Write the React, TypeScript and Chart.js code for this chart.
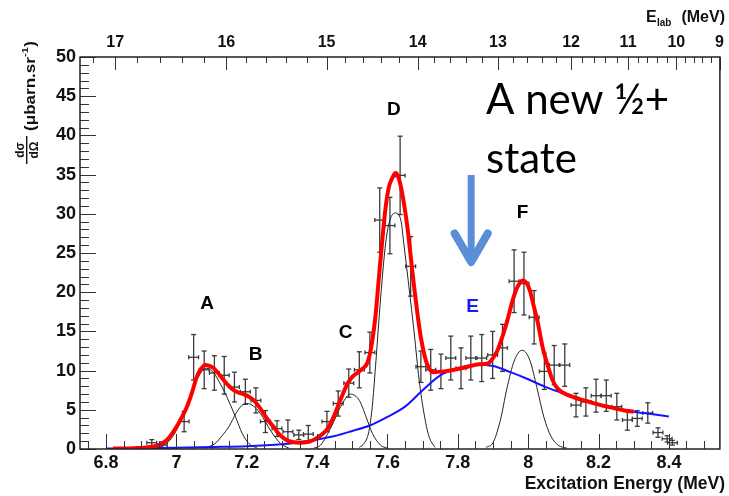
import React, { useEffect, useRef } from 'react';
import { Chart, registerables } from 'chart.js';

Chart.register(...registerables);

// ---------- axes ----------
const xRange = [6.726, 8.545];
const yRange = [0, 50];
const xTickValues = [6.8, 7.0, 7.2, 7.4, 7.6, 7.8, 8.0, 8.2, 8.4];
const yTickStep = 5;
const elabTickLabels = ['17', '16', '15', '14', '13', '12', '11', '10', '9'];
const elabTickEx = [6.826, 7.142, 7.427, 7.686, 7.914, 8.122, 8.284, 8.421, 8.544];

// ---------- measured points ----------
const dataEx = [6.93, 6.96, 7.022, 7.049, 7.079, 7.108, 7.136, 7.165, 7.196, 7.226, 7.253, 7.286, 7.317, 7.348, 7.375, 7.428, 7.46, 7.49, 7.52, 7.55, 7.578, 7.607, 7.636, 7.666, 7.695, 7.723, 7.752, 7.78, 7.809, 7.837, 7.868, 7.899, 7.927, 7.96, 7.988, 8.017, 8.046, 8.074, 8.104, 8.136, 8.164, 8.193, 8.222, 8.252, 8.282, 8.31, 8.34, 8.369, 8.395, 8.41];
const dataXs = [0.8, 0.5, 3.5, 11.7, 10.1, 9.7, 9.4, 7.9, 7.3, 6.2, 3.5, 2.6, 2.2, 1.8, 1.9, 3.5, 5.8, 8.4, 10.1, 12.3, 29.2, 28.5, 34.9, 23.3, 10.5, 10.1, 9.9, 11.6, 10.3, 11.6, 11.6, 12.0, 12.9, 21.4, 21.1, 16.8, 9.9, 10.7, 10.7, 5.6, 6.0, 6.8, 6.8, 5.4, 3.7, 3.9, 4.6, 2.1, 1.3, 0.8];
const dataErr = [0.4, 0.4, 1.3, 2.9, 2.4, 2.2, 2.4, 1.9, 1.6, 1.6, 1.4, 1.0, 1.5, 0.6, 1.1, 1.3, 1.6, 1.8, 2.3, 2.6, 4.1, 3.6, 5.0, 3.8, 2.0, 2.6, 2.2, 2.8, 2.6, 2.8, 3.0, 3.0, 3.0, 4.0, 4.0, 3.4, 2.3, 2.5, 2.7, 1.5, 1.8, 2.1, 2.0, 1.7, 1.3, 1.0, 1.3, 0.6, 0.4, 0.3];
const dataExErr = 0.014;

// ---------- fit curves ----------
const fitTotal: [number, number][] = [
  [6.82, 0.05], [6.88, 0.1], [6.93, 0.3], [6.96, 0.7], [6.98, 1.5], [7.0, 2.8], [7.015, 4.0], [7.03, 5.4],
  [7.045, 7.3], [7.058, 9.2], [7.07, 10.2], [7.082, 10.7], [7.094, 10.6], [7.106, 10.3], [7.12, 9.6], [7.134, 8.8],
  [7.15, 8.0], [7.163, 7.5], [7.177, 7.2], [7.191, 7.0], [7.205, 6.7], [7.22, 6.2], [7.235, 5.4], [7.248, 4.5],
  [7.262, 3.6], [7.277, 2.8], [7.29, 2.0], [7.305, 1.4], [7.32, 1.0], [7.334, 0.85], [7.35, 0.8], [7.372, 0.9],
  [7.39, 1.15], [7.4, 1.4], [7.415, 1.9], [7.43, 2.6], [7.445, 3.9], [7.457, 5.2], [7.472, 6.9], [7.486, 8.3],
  [7.5, 9.2], [7.514, 9.7], [7.528, 10.2], [7.543, 11.0], [7.555, 13.3], [7.566, 17.0], [7.575, 21.5], [7.585, 26.5],
  [7.595, 30.9], [7.604, 33.4], [7.614, 34.6], [7.623, 35.2], [7.63, 34.8], [7.638, 33.5], [7.648, 31.0], [7.657, 28.2],
  [7.667, 24.2], [7.676, 20.6], [7.686, 17.0], [7.695, 14.2], [7.705, 12.0], [7.714, 10.7], [7.73, 9.8], [7.761, 9.9],
  [7.8, 10.2], [7.828, 10.5], [7.86, 10.8], [7.885, 10.9], [7.9, 11.6], [7.913, 12.6], [7.928, 14.5], [7.942, 16.6],
  [7.956, 19.0], [7.97, 20.7], [7.984, 21.5], [7.995, 21.2], [8.005, 20.2], [8.016, 18.2], [8.027, 16.2], [8.041, 13.0],
  [8.056, 10.6], [8.07, 8.7], [8.084, 7.7], [8.098, 7.2], [8.112, 6.9], [8.13, 6.6], [8.15, 6.3], [8.175, 6.0],
  [8.198, 5.7], [8.22, 5.45], [8.245, 5.2], [8.27, 4.95], [8.3, 4.75],
];
const stateE: [number, number][] = [
  [6.8, 0.05], [6.9, 0.1], [7.0, 0.15], [7.1, 0.25], [7.2, 0.35], [7.3, 0.6], [7.35, 0.85], [7.4, 1.2],
  [7.45, 1.65], [7.5, 2.3], [7.55, 3.0], [7.6, 4.1], [7.65, 5.4], [7.7, 7.5], [7.75, 9.4], [7.8, 10.3],
  [7.85, 10.75], [7.9, 10.6], [7.95, 9.8], [8.0, 8.9], [8.05, 7.9], [8.1, 7.1], [8.15, 6.3], [8.2, 5.7],
  [8.25, 5.15], [8.3, 4.75], [8.35, 4.45], [8.4, 4.15],
];
const peakA: [number, number][] = [
  [6.94, 0.1], [6.96, 0.4], [6.985, 1.3], [7.01, 3.3], [7.035, 6.2], [7.06, 9.0], [7.085, 10.3], [7.106, 9.7],
  [7.125, 8.3], [7.144, 6.6], [7.168, 4.1], [7.187, 2.0], [7.206, 0.7], [7.23, 0.1],
];
const peakB: [number, number][] = [
  [7.08, 0.1], [7.11, 0.7], [7.13, 1.7], [7.15, 2.9], [7.17, 4.6], [7.185, 5.5], [7.2, 5.8], [7.215, 5.6],
  [7.239, 4.5], [7.267, 2.4], [7.296, 0.7], [7.32, 0.1],
];
const peakC: [number, number][] = [
  [7.39, 0.1], [7.41, 0.5], [7.44, 2.8], [7.467, 5.4], [7.495, 7.0], [7.52, 6.2], [7.54, 4.0], [7.557, 2.0],
  [7.58, 0.5], [7.6, 0.1],
];
const peakD: [number, number][] = [
  [7.52, 0.2], [7.535, 0.8], [7.547, 2.2], [7.557, 5.5], [7.566, 10.5], [7.581, 19.5], [7.595, 26.3], [7.607, 29.2],
  [7.623, 30.1], [7.638, 29.2], [7.647, 26.0], [7.661, 20.7], [7.676, 14.8], [7.69, 8.8], [7.704, 4.5], [7.718, 1.6],
  [7.735, 0.2],
];
const peakF: [number, number][] = [
  [7.88, 0.2], [7.9, 0.8], [7.92, 3.5], [7.94, 7.8], [7.96, 11.2], [7.983, 12.6], [8.005, 11.3], [8.025, 7.8],
  [8.045, 4.0], [8.065, 1.6], [8.085, 0.5], [8.11, 0.1],
];

// ---------- annotations ----------
const peakNames = ['A', 'B', 'C', 'D', 'E', 'F'];
const peakNameEx = [7.087, 7.225, 7.481, 7.618, 7.842, 7.984];
const peakNameY = [18.5, 12.0, 14.8, 43.3, 18.1, 30.1];
const peakNameColors = ['#000', '#000', '#000', '#000', '#1a1aff', '#000'];
const noteLines = ['A new \u00BD+', 'state'];

const FONT = '"Liberation Sans", Arial, sans-serif';

const toPts = (arr: [number, number][]) => arr.map(([x, y]) => ({ x, y }));

function line(ctx: CanvasRenderingContext2D, x1: number, y1: number, x2: number, y2: number) {
  ctx.beginPath();
  ctx.moveTo(x1, y1);
  ctx.lineTo(x2, y2);
  ctx.stroke();
}

const errorBarPlugin = {
  id: 'errorBars',
  beforeDatasetsDraw(chart: any) {
    const { ctx, chartArea: a, scales } = chart;
    const xs = scales.x, ys = scales.y;
    ctx.save();
    ctx.beginPath();
    ctx.rect(a.left, a.top, a.right - a.left, a.bottom - a.top);
    ctx.clip();
    ctx.strokeStyle = '#3a3a3a';
    ctx.lineWidth = 1.3;
    for (let i = 0; i < dataEx.length; i++) {
      const px = xs.getPixelForValue(dataEx[i]);
      const py = ys.getPixelForValue(dataXs[i]);
      const pt = ys.getPixelForValue(dataXs[i] + dataErr[i]);
      const pb = ys.getPixelForValue(Math.max(0, dataXs[i] - dataErr[i]));
      const pl = xs.getPixelForValue(dataEx[i] - dataExErr);
      const pr = xs.getPixelForValue(dataEx[i] + dataExErr);
      line(ctx, px, pt, px, pb);
      line(ctx, px - 2.5, pt, px + 2.5, pt);
      line(ctx, px - 2.5, pb, px + 2.5, pb);
      line(ctx, pl, py, pr, py);
      line(ctx, pl, py - 2, pl, py + 2);
      line(ctx, pr, py - 2, pr, py + 2);
    }
    ctx.restore();
  },
};

const decorPlugin = {
  id: 'decor',
  afterDraw(chart: any) {
    const { ctx, chartArea: a, scales } = chart;
    const xs = scales.x, ys = scales.y;
    ctx.save();
    ctx.strokeStyle = '#333';
    ctx.lineWidth = 1;
    // left ticks
    for (let v = yRange[0]; v <= yRange[1]; v++) {
      const py = Math.round(ys.getPixelForValue(v)) + 0.5;
      line(ctx, a.left, py, a.left + (v % yTickStep === 0 ? 16 : 9), py);
    }
    // bottom ticks
    for (let k = Math.ceil(xRange[0] * 20); k <= Math.floor(xRange[1] * 20); k++) {
      const px = Math.round(xs.getPixelForValue(k / 20)) + 0.5;
      line(ctx, px, a.bottom, px, a.bottom - (k % 4 === 0 ? 15 : 8));
    }
    // top ticks (E_lab)
    const tp = elabTickEx.map((v) => xs.getPixelForValue(v));
    tp.forEach((p) => line(ctx, Math.round(p) + 0.5, a.top, Math.round(p) + 0.5, a.top + 13));
    for (let i = 0; i < tp.length - 1; i++) {
      for (let k = 1; k < 5; k++) {
        const p = Math.round(tp[i] + ((tp[i + 1] - tp[i]) * k) / 5) + 0.5;
        line(ctx, p, a.top, p, a.top + 6);
      }
    }
    const d0 = (tp[1] - tp[0]) / 5;
    for (let p = tp[0] - d0; p > a.left + 2; p -= d0) {
      line(ctx, Math.round(p) + 0.5, a.top, Math.round(p) + 0.5, a.top + 6);
    }
    // frame
    ctx.strokeStyle = '#222';
    ctx.lineWidth = 1.5;
    ctx.strokeRect(a.left, a.top, a.right - a.left, a.bottom - a.top);

    // axis titles
    ctx.fillStyle = '#111';
    ctx.textBaseline = 'alphabetic';
    ctx.font = `bold 17.5px ${FONT}`;
    ctx.textAlign = 'right';
    ctx.fillText('Excitation Energy (MeV)', 725, 489);
    // E_lab title
    ctx.font = `bold 16px ${FONT}`;
    ctx.fillText('(MeV)', 725, 22);
    ctx.textAlign = 'left';
    ctx.fillText('E', 646, 22);
    ctx.font = `bold 10px ${FONT}`;
    ctx.fillText('lab', 657, 26);

    // y title (rotated)
    ctx.save();
    ctx.translate(0, 166);
    ctx.rotate(-Math.PI / 2);
    ctx.font = `bold 12px ${FONT}`;
    ctx.textAlign = 'center';
    ctx.fillText('d\u03C3', 16, 24);
    ctx.fillRect(2, 26, 28, 1.4);
    ctx.fillText('d\u03A9', 16, 38);
    ctx.textAlign = 'left';
    ctx.font = `bold 14px ${FONT}`;
    const main = '(\u03BCbarn.sr';
    const w = ctx.measureText(main).width;
    const sx = 74 / w;
    ctx.save();
    ctx.translate(35, 0);
    ctx.scale(sx, 1);
    ctx.fillText(main, 0, 35);
    ctx.font = `bold 9px ${FONT}`;
    ctx.fillText('-1', w, 28);
    const w2 = ctx.measureText('-1').width;
    ctx.font = `bold 14px ${FONT}`;
    ctx.fillText(')', w + w2 + 0.5, 35);
    ctx.restore();
    ctx.restore();

    // peak labels
    ctx.font = `bold 19px ${FONT}`;
    ctx.textAlign = 'center';
    ctx.textBaseline = 'middle';
    peakNames.forEach((n, i) => {
      ctx.fillStyle = peakNameColors[i];
      ctx.fillText(n, xs.getPixelForValue(peakNameEx[i]), ys.getPixelForValue(peakNameY[i]));
    });

    // note text
    ctx.fillStyle = '#000';
    ctx.textAlign = 'left';
    ctx.textBaseline = 'alphabetic';
    ctx.font = `42px Lato, "Open Sans", sans-serif`;
    const nx = xs.getPixelForValue(7.88);
    ctx.fillText(noteLines[0], nx, ys.getPixelForValue(42.7));
    ctx.fillText(noteLines[1], nx, ys.getPixelForValue(35.2));

    // arrow
    const ax = xs.getPixelForValue(7.838);
    const aTop = ys.getPixelForValue(34.95);
    const aTip = ys.getPixelForValue(23.85);
    const aWing = ys.getPixelForValue(27.5);
    const wdx = xs.getPixelForValue(7.838 + 0.047) - ax;
    ctx.strokeStyle = '#5B8ED6';
    ctx.lineWidth = 7;
    ctx.lineCap = 'butt';
    line(ctx, ax, aTop, ax, aTip - 4);
    ctx.lineWidth = 8;
    ctx.lineCap = 'round';
    ctx.lineJoin = 'round';
    ctx.beginPath();
    ctx.moveTo(ax - wdx, aWing);
    ctx.lineTo(ax, aTip);
    ctx.lineTo(ax + wdx, aWing);
    ctx.stroke();
    ctx.restore();
  },
};

export default function App() {
  const ref = useRef<HTMLCanvasElement>(null);
  useEffect(() => {
    const canvas = ref.current;
    if (!canvas) return;
    const curve = (data: [number, number][], color: string, width: number, order: number) => ({
      data: toPts(data),
      borderColor: color,
      backgroundColor: color,
      borderWidth: width,
      pointRadius: 0,
      showLine: true,
      fill: false,
      cubicInterpolationMode: 'monotone' as const,
      order,
    });
    const chart = new Chart(canvas, {
      type: 'scatter',
      data: {
        datasets: [
          curve(fitTotal, '#ff0000', 4, 0),
          curve(stateE, '#1414ff', 2, 1),
          curve(peakA, '#222', 1, 2),
          curve(peakB, '#222', 1, 2),
          curve(peakC, '#222', 1, 2),
          curve(peakD, '#222', 1, 2),
          curve(peakF, '#222', 1, 2),
          {
            data: dataEx.map((x, i) => ({ x, y: dataXs[i] })),
            pointRadius: 0,
            showLine: false,
            order: 3,
          },
        ],
      },
      options: {
        responsive: false,
        animation: false,
        events: [],
        layout: { padding: { left: 0, right: 9, top: 0, bottom: 0 } },
        plugins: { legend: { display: false }, tooltip: { enabled: false } },
        scales: {
          x: {
            type: 'linear',
            position: 'bottom',
            min: xRange[0],
            max: xRange[1],
            grid: { display: false, drawTicks: false },
            border: { display: false },
            afterFit: (s: any) => { s.height = 47; },
            afterBuildTicks: (s: any) => { s.ticks = xTickValues.map((v) => ({ value: v })); },
            ticks: {
              autoSkip: false,
              maxRotation: 0,
              padding: 3,
              color: '#111',
              font: { family: FONT, size: 18, weight: 'bold' },
              callback: (v: any) => String(+Number(v).toFixed(1)),
            },
          },
          x2: {
            type: 'linear',
            position: 'top',
            min: xRange[0],
            max: xRange[1],
            grid: { display: false, drawTicks: false },
            border: { display: false },
            afterFit: (s: any) => { s.height = 57; },
            afterBuildTicks: (s: any) => { s.ticks = elabTickEx.map((v) => ({ value: v })); },
            ticks: {
              autoSkip: false,
              maxRotation: 0,
              padding: 5,
              color: '#111',
              font: { family: FONT, size: 16, weight: 'bold' },
              callback: (_v: any, i: number) => elabTickLabels[i],
            },
          },
          y: {
            type: 'linear',
            min: yRange[0],
            max: yRange[1],
            grid: { display: false, drawTicks: false },
            border: { display: false },
            afterFit: (s: any) => { s.width = 80; },
            ticks: {
              stepSize: yTickStep,
              padding: 4,
              color: '#111',
              font: { family: FONT, size: 18, weight: 'bold' },
            },
          },
        },
      },
      plugins: [errorBarPlugin, decorPlugin],
    } as any);
    return () => chart.destroy();
  }, []);
  return (
    <div style={{ position: 'absolute', left: 0, top: 0, width: 729, height: 496, background: '#fff' }}>
      <canvas ref={ref} width={729} height={496} style={{ display: 'block', width: 729, height: 496 }} />
    </div>
  );
}
